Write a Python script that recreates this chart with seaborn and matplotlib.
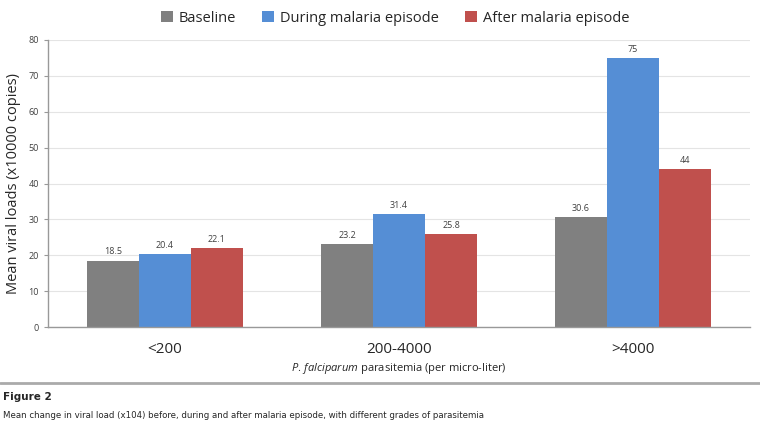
import pandas as pd
import matplotlib
matplotlib.use("Agg")
import matplotlib.pyplot as plt
import seaborn as sns

# data
groups = ["<200", "200-4000", ">4000"]
series = ["Baseline", "During malaria episode", "After malaria episode"]
baseline = [18.5, 23.2, 30.6]
during = [20.4, 31.4, 75]
after = [22.1, 25.8, 44]
colors = ["#808080", "#558ED5", "#C0504D"]

rows = []
for name, vals in zip(series, [baseline, during, after]):
    for g, v in zip(groups, vals):
        rows.append({"group": g, "series": name, "value": v})
df = pd.DataFrame(rows)

sns.set_style("white")
plt.rcParams["font.family"] = ["Open Sans", "DejaVu Sans"]
plt.rcParams["mathtext.fontset"] = "custom"
plt.rcParams["mathtext.it"] = "Open Sans:italic"
plt.rcParams["mathtext.rm"] = "Open Sans"

fig = plt.figure(figsize=(7.6, 4.3), dpi=100)
ax = fig.add_axes([0.063, 0.2395, 0.924, 0.6675])

sns.barplot(data=df, x="group", y="value", hue="series", order=groups,
            hue_order=series, palette=colors, width=0.667, gap=0,
            saturation=1, linewidth=0, ax=ax, legend=True)

for cont in ax.containers:
    ax.bar_label(cont, labels=[f"{v:g}" for v in cont.datavalues],
                 padding=3, fontsize=6.5, color="#404040")

ax.set_ylim(0, 80)
ax.set_yticks(range(0, 81, 10))
ax.tick_params(axis="y", labelsize=6.5, labelcolor="#404040", length=3,
               width=0.8, direction="out", left=True, color="#999999")
ax.tick_params(axis="x", labelsize=11, length=0, pad=11)
ax.yaxis.grid(True, color="#e4e4e4", linewidth=0.8)
ax.set_axisbelow(True)
for s in ["top", "right"]:
    ax.spines[s].set_visible(False)
for s in ["left", "bottom"]:
    ax.spines[s].set_color("#999999")
    ax.spines[s].set_linewidth(1)

ax.set_ylabel("Mean viral loads (x10000 copies)", fontsize=10.5, labelpad=5)
ax.set_xlabel(r"$\mathit{P.\,falciparum}$ parasitemia (per micro-liter)",
              fontsize=8, labelpad=3)

ax.legend(loc="center", bbox_to_anchor=(0.52, 1 - 18 / 430),
          bbox_transform=fig.transFigure, ncol=3,
          frameon=False, fontsize=10.5, handlelength=0.8, handleheight=0.8,
          columnspacing=1.8, handletextpad=0.4)

# caption block below the chart
fig.add_artist(plt.Line2D([0, 1], [1 - 383 / 430] * 2, color="#aaaaaa",
                          linewidth=2, transform=fig.transFigure))
fig.text(0.004, 1 - 397 / 430, "Figure 2", fontsize=7.5, fontweight="bold",
         family="DejaVu Sans", va="center")
fig.text(0.004, 1 - 415 / 430,
         "Mean change in viral load (x104) before, during and after malaria episode, with different grades of parasitemia",
         fontsize=6.2, family="DejaVu Sans", va="center")

fig.savefig("out.png", dpi=100)
